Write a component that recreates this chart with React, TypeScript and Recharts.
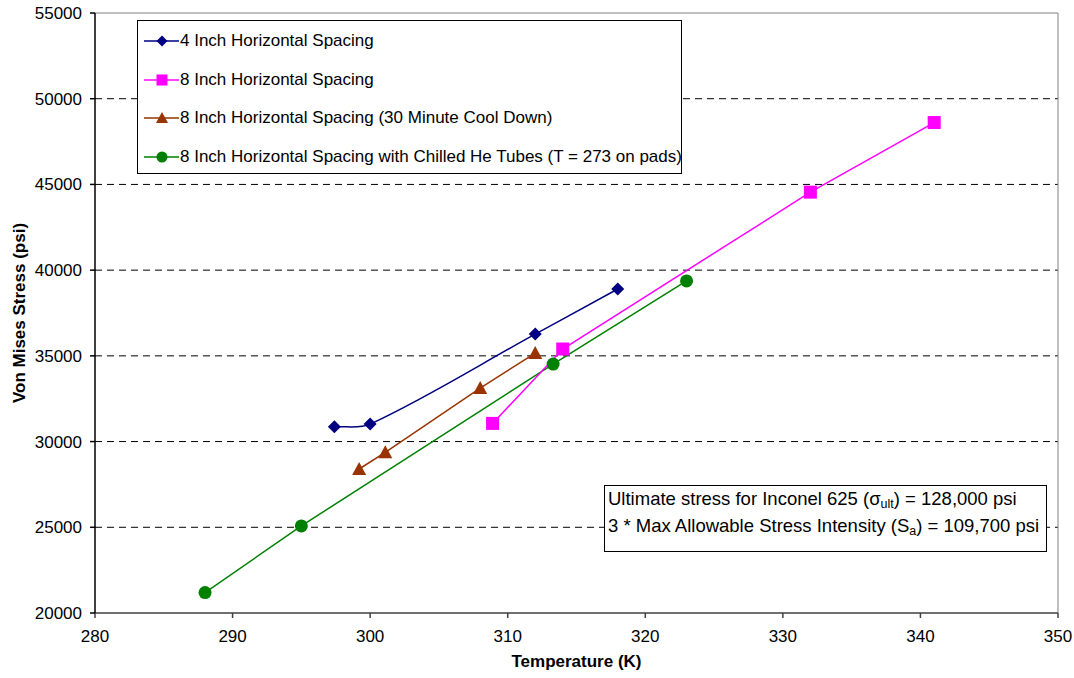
import React from "react";
import {
  LineChart,
  Line,
  XAxis,
  YAxis,
  CartesianGrid,
  ReferenceLine,
  Label,
} from "recharts";

// ---- Data ----
const xTicks = [280, 290, 300, 310, 320, 330, 340, 350];
const yTicks = [20000, 25000, 30000, 35000, 40000, 45000, 50000, 55000];
const gridValues = [25000, 30000, 35000, 40000, 45000, 50000];

const fourInchT = [297.4, 300, 312, 318];
const fourInchS = [30860, 31020, 36270, 38900];

const eightInchT = [308.9, 314, 332, 341];
const eightInchS = [31060, 35400, 44550, 48610];

const coolDownT = [299.2, 301.1, 308, 312];
const coolDownS = [28400, 29370, 33120, 35160];

const chilledT = [288, 295, 313.3, 323];
const chilledS = [21190, 25080, 34520, 39370];

const seriesNames = [
  "4 Inch Horizontal Spacing",
  "8 Inch Horizontal Spacing",
  "8 Inch Horizontal Spacing (30 Minute Cool Down)",
  "8 Inch Horizontal Spacing with Chilled He Tubes (T = 273 on pads)",
];

const toRows = (xs: number[], ys: number[]) =>
  xs.map((x, i) => ({ x, y: ys[i] }));

const fourInch = toRows(fourInchT, fourInchS);
const eightInch = toRows(eightInchT, eightInchS);
const coolDown = toRows(coolDownT, coolDownS);
const chilled = toRows(chilledT, chilledS);

const NAVY = "#000080";
const MAGENTA = "#FF00FF";
const BROWN = "#993300";
const GREEN = "#008000";
const FONT = "'Liberation Sans', Arial, sans-serif";

// Excel-like smoothed line curve factory (tangents scaled by segment length)
const excelSmooth: any = (context: any) => {
  let pts: number[][] = [];
  return {
    areaStart() {},
    areaEnd() {},
    lineStart() {
      pts = [];
    },
    point(x: number, y: number) {
      pts.push([+x, +y]);
    },
    lineEnd() {
      const n = pts.length;
      if (n === 0) return;
      context.moveTo(pts[0][0], pts[0][1]);
      for (let i = 0; i < n - 1; i++) {
        const p0 = pts[i];
        const p1 = pts[i + 1];
        const prev = i > 0 ? pts[i - 1] : p0;
        const next = i + 2 < n ? pts[i + 2] : p1;
        const len = Math.hypot(p1[0] - p0[0], p1[1] - p0[1]);
        let t0x = p1[0] - prev[0];
        let t0y = p1[1] - prev[1];
        let l0 = Math.hypot(t0x, t0y) || 1;
        let t1x = next[0] - p0[0];
        let t1y = next[1] - p0[1];
        let l1 = Math.hypot(t1x, t1y) || 1;
        const c1x = p0[0] + (t0x / l0) * (len / 3);
        const c1y = p0[1] + (t0y / l0) * (len / 3);
        const c2x = p1[0] - (t1x / l1) * (len / 3);
        const c2y = p1[1] - (t1y / l1) * (len / 3);
        context.bezierCurveTo(c1x, c1y, c2x, c2y, p1[0], p1[1]);
      }
    },
  };
};

// ---- Markers ----
const diamondPath = (cx: number, cy: number, r: number) =>
  `M${cx},${cy - r} L${cx + r},${cy} L${cx},${cy + r} L${cx - r},${cy} Z`;
const trianglePath = (cx: number, cy: number, r: number) =>
  `M${cx},${cy - r} L${cx + r},${cy + r * 0.85} L${cx - r},${cy + r * 0.85} Z`;

const DiamondDot = (p: any) => (
  <path key={p.key ?? `d${p.index}`} d={diamondPath(p.cx, p.cy, 6.5)} fill={NAVY} />
);
const SquareDot = (p: any) => (
  <rect key={p.key ?? `s${p.index}`} x={p.cx - 6.5} y={p.cy - 6.5} width={13} height={13} fill={MAGENTA} />
);
const TriangleDot = (p: any) => (
  <path key={p.key ?? `t${p.index}`} d={trianglePath(p.cx, p.cy, 7)} fill={BROWN} />
);
const CircleDot = (p: any) => (
  <circle key={p.key ?? `c${p.index}`} cx={p.cx} cy={p.cy} r={6.5} fill={GREEN} />
);

const legendMarkers = [
  (cx: number, cy: number) => <path d={diamondPath(cx, cy, 5.5)} fill={NAVY} />,
  (cx: number, cy: number) => (
    <rect x={cx - 5.5} y={cy - 5.5} width={11} height={11} fill={MAGENTA} />
  ),
  (cx: number, cy: number) => <path d={trianglePath(cx, cy, 6)} fill={BROWN} />,
  (cx: number, cy: number) => <circle cx={cx} cy={cy} r={5.5} fill={GREEN} />,
];
const legendColors = [NAVY, MAGENTA, BROWN, GREEN];

const subStyle: React.CSSProperties = {
  fontSize: 12.5,
  verticalAlign: "-3px",
  lineHeight: 0,
};

export default function App() {
  return (
    <div
      style={{
        position: "absolute",
        left: 0,
        top: 0,
        width: 1074,
        height: 678,
        background: "#fff",
        fontFamily: FONT,
      }}
    >
      <LineChart
        width={1074}
        height={678}
        margin={{ top: 13, right: 16, bottom: 0, left: 0 }}
        style={{ fontFamily: FONT }}
      >
        <CartesianGrid
          horizontal={true}
          vertical={false}
          horizontalValues={gridValues}
          stroke="#000"
          strokeDasharray="7 5"
        />
        <ReferenceLine y={55000} stroke="#808080" strokeWidth={1} ifOverflow="visible" />
        <ReferenceLine x={350} stroke="#808080" strokeWidth={1} ifOverflow="visible" />
        <XAxis
          type="number"
          dataKey="x"
          domain={[280, 350]}
          ticks={xTicks}
          interval={0}
          height={65}
          tickSize={5}
          tickMargin={12}
          stroke="#404040"
          strokeWidth={1.5}
          tick={{ fill: "#000", fontSize: 17 }}
          allowDuplicatedCategory={false}
        >
          <Label
            value="Temperature (K)"
            position="insideBottom"
            offset={11}
            style={{ fontWeight: "bold", fontSize: 17, fill: "#000" }}
          />
        </XAxis>
        <YAxis
          type="number"
          dataKey="y"
          domain={[20000, 55000]}
          ticks={yTicks}
          interval={0}
          width={95}
          tickSize={5}
          tickMargin={8}
          stroke="#000"
          strokeWidth={1.5}
          tick={{ fill: "#000", fontSize: 17 }}
        >
          <Label
            value="Von Mises Stress (psi)"
            angle={-90}
            position="insideLeft"
            offset={19}
            style={{ fontWeight: "bold", fontSize: 17, fill: "#000", textAnchor: "middle" }}
          />
        </YAxis>
        <Line
          data={chilled}
          dataKey="y"
          type="linear"
          stroke={GREEN}
          strokeWidth={1.5}
          dot={CircleDot}
          activeDot={false}
          isAnimationActive={false}
        />
        <Line
          data={coolDown}
          dataKey="y"
          type="linear"
          stroke={BROWN}
          strokeWidth={1.5}
          dot={TriangleDot}
          activeDot={false}
          isAnimationActive={false}
        />
        <Line
          data={eightInch}
          dataKey="y"
          type="linear"
          stroke={MAGENTA}
          strokeWidth={1.5}
          dot={SquareDot}
          activeDot={false}
          isAnimationActive={false}
        />
        <Line
          data={fourInch}
          dataKey="y"
          type={excelSmooth}
          stroke={NAVY}
          strokeWidth={1.5}
          dot={DiamondDot}
          activeDot={false}
          isAnimationActive={false}
        />
      </LineChart>

      {/* Legend box */}
      <div
        style={{
          position: "absolute",
          left: 137,
          top: 20,
          width: 545,
          height: 154,
          boxSizing: "border-box",
          border: "1px solid #000",
          background: "#fff",
        }}
      >
        {seriesNames.map((name, i) => (
          <div
            key={name}
            style={{
              position: "absolute",
              left: 0,
              top: 20 + i * 38.7 - 12,
              height: 24,
              display: "flex",
              alignItems: "center",
              whiteSpace: "nowrap",
            }}
          >
            <svg width={42} height={24} style={{ display: "block" }}>
              <line x1={6} y1={12} x2={41} y2={12} stroke={legendColors[i]} strokeWidth={1.5} />
              {legendMarkers[i](24, 12)}
            </svg>
            <span style={{ fontSize: 17, color: "#000", marginLeft: 0 }}>{name}</span>
          </div>
        ))}
      </div>

      {/* Annotation box */}
      <div
        style={{
          position: "absolute",
          left: 604,
          top: 485,
          width: 443,
          height: 67,
          boxSizing: "border-box",
          border: "1px solid #000",
          background: "#fff",
          fontSize: 18.5,
          lineHeight: "26.5px",
          paddingLeft: 3,
          paddingTop: 0,
          color: "#000",
          whiteSpace: "nowrap",
        }}
      >
        <div>
          Ultimate stress for Inconel 625 (σ<sub style={subStyle}>ult</sub>) = 128,000 psi
        </div>
        <div>
          3 * Max Allowable Stress Intensity (S<sub style={subStyle}>a</sub>) = 109,700 psi
        </div>
      </div>
    </div>
  );
}
